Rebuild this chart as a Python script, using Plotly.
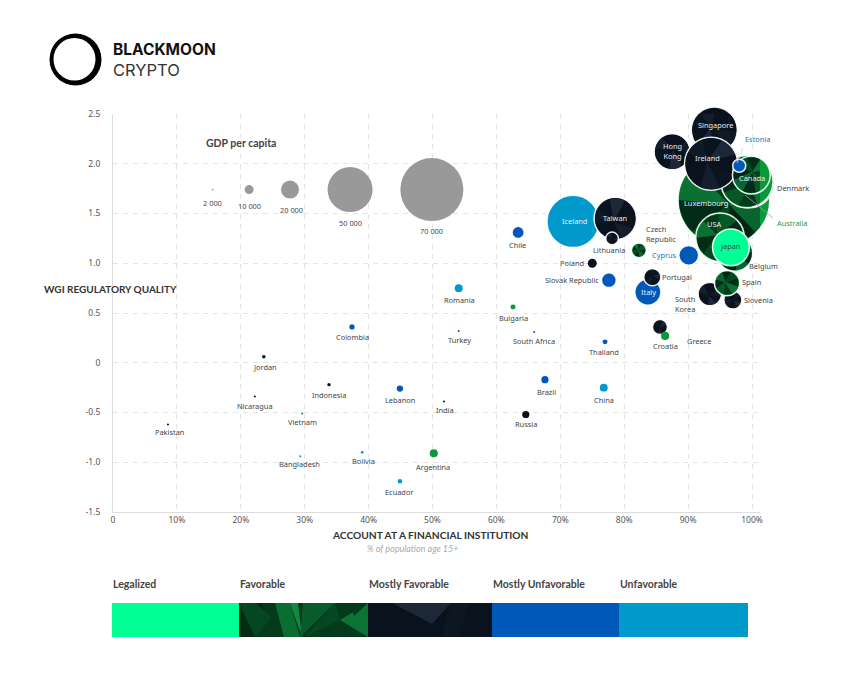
import math
import plotly.graph_objects as go

# ---------- data ----------
countries = ["Luxembourg","Singapore","Hong Kong","Denmark","Australia","Ireland","Canada","Estonia",
             "Belgium","USA","Japan","South Korea","Slovenia","Spain","Iceland","Taiwan","Lithuania",
             "Czech Republic","Cyprus","Poland","Slovak Republic","Italy","Portugal","Greece","Croatia",
             "Romania","Chile","Bulgaria","Turkey","South Africa","Thailand","Brazil","China","Russia",
             "India","Argentina","Ecuador","Bolivia","Bangladesh","Pakistan","Vietnam","Nicaragua",
             "Indonesia","Lebanon","Jordan","Colombia"]
account = [95.6,94.1,87.5,99.5,99.2,93.6,99.9,98.0,
           97.3,95.0,96.7,93.4,97.0,96.1,72.0,78.6,78.1,
           82.3,90.1,75.0,77.6,83.7,84.4,85.6,86.4,
           54.1,63.4,62.6,54.1,65.9,77.0,67.6,76.8,64.6,
           51.8,50.2,44.9,39.0,29.3,8.6,29.6,22.2,
           33.8,44.9,23.6,37.4]
wgi = [1.635,2.34,2.12,1.81,1.82,2.0,1.886,1.98,
       1.10,1.26,1.16,0.69,0.63,0.80,1.42,1.45,1.25,
       1.13,1.08,1.00,0.83,0.71,0.86,0.36,0.27,
       0.75,1.31,0.56,0.32,0.31,0.21,-0.17,-0.25,-0.52,
       -0.39,-0.91,-1.19,-0.90,-0.94,-0.62,-0.51,-0.34,
       -0.22,-0.26,0.06,0.36]
gdp = [102000,51000,40000,56000,58000,59000,42000,14500,
       40000,54000,41000,26000,20000,28000,58000,47000,14000,
       16500,22000,10000,16500,29000,19000,16500,9000,
       8800,13500,5500,2200,2200,5500,8000,8800,8000,
       1200,9000,5000,3000,1200,1300,2300,2000,
       3800,7000,4000,5800]
status = ["F","M","M","M","F","M","F","U",
          "F","F","L","M","M","F","X","M","M",
          "F","U","M","U","U","M","M","F",
          "X","U","F","U","U","U","U","X","M",
          "M","F","X","X","X","M","F","M",
          "M","U","M","U"]

legend_gdp = [2000,10000,20000,50000,70000]
legend_gdp_text = ["2 000","10 000","20 000","50 000","70 000"]
legend_gdp_account = [15.6,21.3,27.7,37.1,49.9]
legend_gdp_wgi = 1.74

x_ticks = [0,10,20,30,40,50,60,70,80,90,100]
x_tick_text = ["0","10%","20%","30%","40%","50%","60%","70%","80%","90%","100%"]
y_ticks = [-1.5,-1.0,-0.5,0,0.5,1.0,1.5,2.0,2.5]
y_tick_text = ["-1.5","-1.0","-0.5","0","0.5","1.0","1.5","2.0","2.5"]

status_names = ["Legalized","Favorable","Mostly Favorable","Mostly Unfavorable","Unfavorable"]

# ---------- styling / layout ----------
W, H = 860, 679
L, R, T, B = 113, 760, 114, 512
X_MAX = (R - L) / 6.39
PX_X = (R - L) / X_MAX
PX_Y = (B - T) / 4.0
DIAM_PER_USD = 0.0009

COL = {"L":"#00ff94","F":"#0a9a3c","M":"#0a121d","U":"#0059b8","X":"#0099cc"}
FONT = "Noto Sans"
HEAD = "Lato"
INK = "#3c3c3c"
GRID = "#e4e4e4"

def px(x): return (x - L) / (R - L)
def py(y): return (B - y) / (B - T)

label_at = {
 "Singapore":(715,125),"Hong Kong":(672,151),"Ireland":(707,158),"Estonia":(757,139),"Canada":(752,178),
 "Denmark":(793,188),"Luxembourg":(706,203),"Australia":(792,223),"USA":(714,224),"Japan":(730,246),
 "Belgium":(763,266),"Spain":(751,282),"South Korea":(685,304),"Slovenia":(758,300),"Portugal":(677,277),
 "Italy":(648,292),"Iceland":(574,221),"Taiwan":(615,218),"Lithuania":(609,250),"Czech Republic":(660,234),
 "Cyprus":(664,255),"Poland":(572,263),"Slovak Republic":(572,280),"Greece":(699,341),"Croatia":(665,346),
 "Romania":(460,300),"Chile":(517,245),"Bulgaria":(513,318),"Turkey":(460,340),"South Africa":(534,341),
 "Thailand":(604,352),"Brazil":(546,392),"China":(604,400),"Russia":(526,424),"India":(445,410),
 "Argentina":(433,467),"Ecuador":(399,492),"Bolivia":(363,461),"Bangladesh":(299,464),"Pakistan":(169,432),
 "Vietnam":(302,422),"Nicaragua":(255,406),"Indonesia":(329,395),"Lebanon":(400,400),"Jordan":(265,367),
 "Colombia":(352,337)}
two_line = {"Hong Kong":"Hong<br>Kong","South Korea":"South<br>Korea","Czech Republic":"Czech<br>Republic"}
inside_white = {"Singapore","Hong Kong","Ireland","Canada","Luxembourg","USA","Italy","Iceland","Taiwan"}
label_colour = {"Estonia":"#1f6fc0","Cyprus":"#1f6fc0","Australia":"#17a04a"}
legend_label_at = [(212,203),(249,206),(291,210),(350,223),(431,231)]

GREEN_SHADES = ["#022c17","#065626","#033a1c","#0a7033","#022c17","#054722","#022514","#086430"]
DARK_SHADES = ["#0a121d","#141e2c","#0b1520","#0a121d","#1c2738","#0a1420","#101a27","#0a121d"]
HUB = [(0.12,-0.1),(-0.15,0.1),(0.05,0.18),(-0.08,-0.16)]

fig = go.Figure()

def facets(cx, cy, d, shades, turn):
    """Decorative faceted fill for one bubble, derived from its position and size."""
    r = d / 2 - 1.0
    n = len(shades)
    hub = HUB[turn % len(HUB)]
    for k, shade in enumerate(shades):
        a0 = 2*math.pi*k/n + turn*0.7
        a1 = 2*math.pi*(k+1)/n + turn*0.7
        xs = [cx + hub[0]*r/PX_X]
        ys = [cy + hub[1]*r/PX_Y]
        for j in range(7):
            a = a0 + (a1-a0)*j/6
            xs.append(cx + r*math.cos(a)/PX_X)
            ys.append(cy + r*math.sin(a)/PX_Y)
        xs.append(xs[0]); ys.append(ys[0])
        fig.add_trace(go.Scatter(x=xs, y=ys, mode="lines", fill="toself", fillcolor=shade, cliponaxis=False,
                                 line=dict(width=0, color=shade), hoverinfo="skip", showlegend=False))

# size legend
fig.add_trace(go.Scatter(x=legend_gdp_account, y=[legend_gdp_wgi]*5, mode="markers", cliponaxis=False,
    marker=dict(size=legend_gdp, sizemode="diameter", sizeref=1/DIAM_PER_USD, color="#999999", opacity=1,
                line=dict(width=0)), hoverinfo="skip", showlegend=False))

# country bubbles, painted in order so overlaps match
for i, c in enumerate(countries):
    d = gdp[i] * DIAM_PER_USD
    big = d >= 12
    fig.add_trace(go.Scatter(x=[account[i]], y=[wgi[i]], mode="markers", name=c, cliponaxis=False,
        marker=dict(size=[gdp[i]], sizemode="diameter", sizeref=1/DIAM_PER_USD, sizemin=1, color=COL[status[i]], opacity=1,
                    line=dict(width=1.5 if big else 0, color="rgba(255,255,255,0.9)")),
        showlegend=False))
    if big and status[i] == "F":
        facets(account[i], wgi[i], d, GREEN_SHADES, i)
    elif big and status[i] == "M":
        facets(account[i], wgi[i], d, DARK_SHADES, i)

ann = []
def text(x, y, s, size=7.4, color=INK, family=FONT, anchor="center", bold=False):
    if bold:
        s = "<b>" + s + "</b>"
    ann.append(dict(xref="paper", yref="paper", x=px(x), y=py(y), text=s, showarrow=False,
                    xanchor=anchor, yanchor="middle", align=anchor if anchor != "center" else "center",
                    borderpad=0, font=dict(size=size, color=color, family=family)))

for c, (lx, ly) in label_at.items():
    col = "#e8ecf0" if c in inside_white else label_colour.get(c, "#3f4448")
    if c == "Czech Republic":
        text(645, ly, two_line[c], color=col, anchor="left")
    elif c == "South Korea":
        text(685, ly, two_line[c], color=col)
    else:
        text(lx, ly, two_line.get(c, c), color=col)

for (lx, ly), s in zip(legend_label_at, legend_gdp_text):
    text(lx, ly, s, color="#4a4a4a")

text(240.5, 143, "GDP per capita", size=10.5, family=HEAD, color="#444444", bold=True)
text(110, 289, "WGI REGULATORY QUALITY", size=10, family=HEAD, color="#333333", bold=True)
text(430, 535, "ACCOUNT AT A FINANCIAL INSTITUTION", size=10.2, family=HEAD, color="#333333", bold=True)
text(412, 548, "<i>% of population age 15+</i>", size=9, family=HEAD, color="#aaaaaa")

# logo text
text(112, 50, "BLACKMOON", size=15.5, family="Inter", color="#111111", anchor="left", bold=True)
text(112, 70, "CRYPTO", size=16.5, family="Inter", color="#333333", anchor="left")

# status strip
strip_edges = [112, 239, 368, 492, 619, 748]
strip_cols = ["#00ff94", "#04391c", "#0a121d", "#0059b8", "#0099cc"]
shapes = []
def rect(x0, y0, x1, y1, color):
    shapes.append(dict(type="rect", xref="paper", yref="paper", x0=px(x0), x1=px(x1), y0=py(y1), y1=py(y0),
                       fillcolor=color, line=dict(width=0), layer="above"))
def poly(points, color):
    path = "M " + " L ".join(f"{px(a):.5f} {py(b):.5f}" for a, b in points) + " Z"
    shapes.append(dict(type="path", xref="paper", yref="paper", path=path, fillcolor=color,
                       line=dict(width=0), layer="above"))
for k, name in enumerate(status_names):
    text(strip_edges[k], 584, name, size=10.5, family=HEAD, color="#444444", anchor="left", bold=True)
    rect(strip_edges[k], 603, strip_edges[k+1], 637, strip_cols[k])

# texture of the two dark swatches
for pts, col in [
    ([(239,603),(262,603),(268,622),(255,637),(239,637)], "#032c15"),
    ([(239,603),(256,603),(272,618),(255,637)], "#054722"),
    ([(275,603),(290,603),(300,637),(284,637)], "#0a6e32"),
    ([(290,603),(298,603),(302,637)], "#0f8a40"),
    ([(303,603),(335,603),(300,637)], "#085c2b"),
    ([(335,603),(340,620),(305,637)], "#054722"),
    ([(340,620),(368,603),(368,637)], "#0b7335"),
    ([(350,603),(368,603),(354,616)], "#043a1c"),
]:
    poly(pts, col)
poly([(392,603),(451,603),(432,624)], "#1c2838")
poly([(451,603),(470,603),(458,637),(442,637)], "#0c1722")

# logo ring
shapes.append(dict(type="circle", xref="paper", yref="paper", x0=px(49.5), x1=px(101.5), y0=py(85.5), y1=py(33.5),
                   fillcolor="#000000", line=dict(width=0), layer="above"))
shapes.append(dict(type="circle", xref="paper", yref="paper", x0=px(53.5), x1=px(95.5), y0=py(80.5), y1=py(38.0),
                   fillcolor="#ffffff", line=dict(width=0), layer="above"))

# leader lines
for (x0, y0, x1, y1), col in [((743,148,737,163), "#c9d6e2"), ((745,195,773,218), "#9aa0a0")]:
    shapes.append(dict(type="line", xref="paper", yref="paper", x0=px(x0), x1=px(x1), y0=py(y0), y1=py(y1),
                       line=dict(width=0.8, color=col), layer="above"))

axis_common = dict(showgrid=True, gridcolor=GRID, griddash="5px,5px", gridwidth=1, zeroline=False,
                   showline=True, linecolor="#dddddd", linewidth=1, ticks="",
                   tickfont=dict(size=8.5, color="#555555", family=FONT))
fig.update_layout(
    width=W, height=H, margin=dict(l=L, r=W-R, t=T, b=H-B, pad=0),
    paper_bgcolor="white", plot_bgcolor="white", showlegend=False,
    xaxis=dict(range=[0, X_MAX], tickmode="array", tickvals=x_ticks, ticktext=x_tick_text, **axis_common),
    yaxis=dict(range=[-1.5, 2.5], tickmode="array", tickvals=y_ticks, ticktext=y_tick_text, ticklabelstandoff=10, **axis_common),
    annotations=ann, shapes=shapes,
)
fig.write_html("out.html", config=dict(displayModeBar=False), post_script="document.body.style.margin='0';")
